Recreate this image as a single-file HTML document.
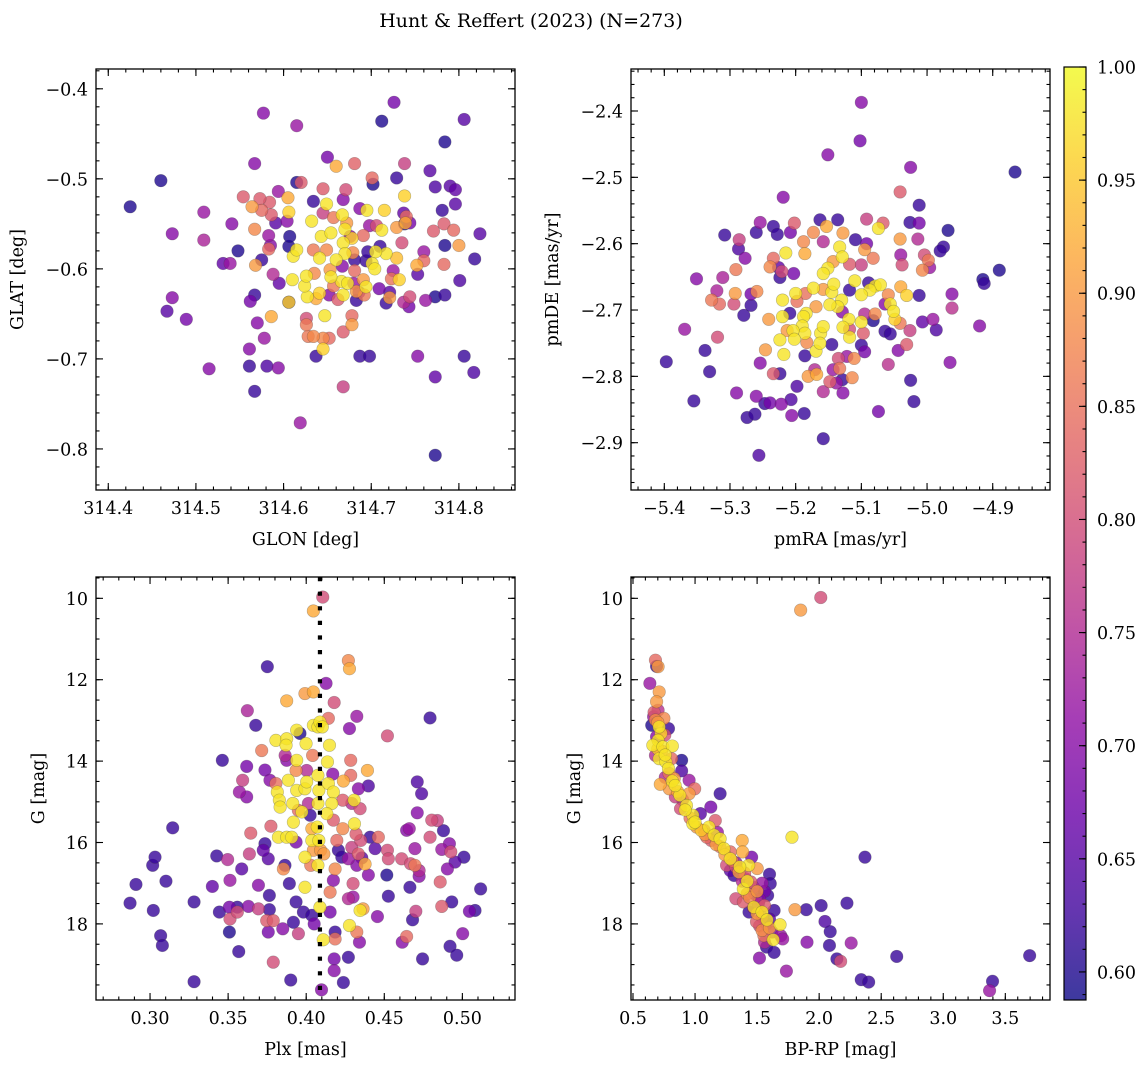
<!DOCTYPE html>
<html><head><meta charset="utf-8"><title>Hunt & Reffert (2023)</title>
<style>
html,body{margin:0;padding:0;background:#fff;}
svg{display:block;font-family:"DejaVu Serif","Liberation Serif",serif;}
</style></head>
<body>
<svg id="fig" width="1148" height="1067" viewBox="0 0 1148 1067" xmlns="http://www.w3.org/2000/svg">
<text x="531" y="27" text-anchor="middle" font-size="19">Hunt &amp; Reffert (2023) (N=273)</text>
</svg>
<script>
// ---------- data (x, y, membership probability) ----------
const glonGlatPoints = [
[314.425,-0.531,0.6],[314.460,-0.502,0.6],[314.577,-0.427,0.7],[314.615,-0.441,0.72],[314.726,-0.415,0.68],[314.712,-0.436,0.6],[314.806,-0.434,0.65],[314.784,-0.459,0.6],[314.567,-0.483,0.7],[314.650,-0.476,0.68],[314.660,-0.486,0.92],[314.681,-0.483,0.83],[314.738,-0.483,0.78],[314.767,-0.491,0.65],[314.729,-0.499,0.62],[314.701,-0.499,0.84],[314.702,-0.506,0.6],[314.615,-0.504,0.6],[314.620,-0.504,0.82],[314.773,-0.509,0.64],[314.790,-0.508,0.65],[314.796,-0.512,0.66],[314.796,-0.528,0.65],[314.781,-0.535,0.62],[314.824,-0.561,0.65],[314.818,-0.589,0.62],[314.801,-0.613,0.64],[314.784,-0.574,0.6],[314.800,-0.574,0.9],[314.783,-0.595,0.84],[314.771,-0.558,0.82],[314.783,-0.550,0.82],[314.794,-0.557,0.84],[314.784,-0.629,0.62],[314.773,-0.631,0.6],[314.762,-0.635,0.72],[314.752,-0.596,0.92],[314.760,-0.581,0.72],[314.760,-0.591,0.84],[314.753,-0.606,0.65],[314.743,-0.642,0.68],[314.744,-0.631,0.8],[314.737,-0.637,0.75],[314.738,-0.550,0.6],[314.738,-0.519,0.96],[314.737,-0.538,0.66],[314.740,-0.542,0.84],[314.744,-0.549,0.68],[314.739,-0.549,0.92],[314.729,-0.554,0.9],[314.735,-0.571,0.8],[314.729,-0.588,0.94],[314.732,-0.612,0.96],[314.723,-0.611,0.85],[314.725,-0.602,0.72],[314.721,-0.632,0.9],[314.717,-0.638,0.62],[314.721,-0.626,0.65],[314.709,-0.622,0.68],[314.715,-0.535,0.96],[314.712,-0.557,0.98],[314.706,-0.552,0.8],[314.698,-0.552,0.72],[314.695,-0.535,0.98],[314.687,-0.533,0.7],[314.691,-0.563,0.84],[314.717,-0.583,0.98],[314.705,-0.581,0.98],[314.701,-0.594,0.98],[314.704,-0.600,0.98],[314.694,-0.591,0.62],[314.691,-0.612,0.9],[314.694,-0.620,0.98],[314.692,-0.629,0.86],[314.686,-0.626,0.68],[314.683,-0.635,0.62],[314.680,-0.616,0.72],[314.681,-0.602,0.84],[314.679,-0.582,0.88],[314.678,-0.566,0.96],[314.672,-0.549,0.9],[314.671,-0.512,0.8],[314.668,-0.523,0.7],[314.667,-0.540,0.98],[314.670,-0.556,0.98],[314.668,-0.571,0.98],[314.670,-0.583,0.98],[314.667,-0.597,0.7],[314.666,-0.614,0.98],[314.668,-0.629,0.98],[314.678,-0.652,0.84],[314.678,-0.662,0.9],[314.668,-0.670,0.82],[314.668,-0.731,0.78],[314.687,-0.697,0.62],[314.698,-0.697,0.62],[314.753,-0.697,0.7],[314.773,-0.720,0.66],[314.806,-0.697,0.62],[314.817,-0.715,0.64],[314.773,-0.807,0.6],[314.619,-0.771,0.72],[314.645,-0.689,0.96],[314.652,-0.677,0.84],[314.645,-0.677,0.88],[314.634,-0.675,0.88],[314.628,-0.675,0.86],[314.626,-0.662,0.86],[314.626,-0.655,0.8],[314.637,-0.697,0.62],[314.647,-0.652,0.98],[314.641,-0.627,0.96],[314.637,-0.633,0.92],[314.627,-0.631,0.98],[314.624,-0.619,0.98],[314.626,-0.608,0.98],[314.635,-0.605,0.88],[314.610,-0.612,0.98],[314.606,-0.637,0.62],[314.606,-0.637,0.96],[314.611,-0.586,0.98],[314.615,-0.579,0.98],[314.606,-0.575,0.6],[314.607,-0.564,0.6],[314.606,-0.537,0.96],[314.605,-0.521,0.92],[314.604,-0.547,0.7],[314.594,-0.514,0.72],[314.584,-0.526,0.82],[314.573,-0.522,0.82],[314.575,-0.535,0.84],[314.554,-0.520,0.82],[314.564,-0.531,0.9],[314.567,-0.556,0.88],[314.586,-0.540,0.82],[314.591,-0.549,0.65],[314.583,-0.563,0.72],[314.585,-0.574,0.7],[314.583,-0.578,0.84],[314.575,-0.590,0.62],[314.568,-0.596,0.9],[314.588,-0.606,0.75],[314.595,-0.616,0.66],[314.548,-0.580,0.6],[314.531,-0.594,0.66],[314.539,-0.594,0.72],[314.541,-0.550,0.7],[314.509,-0.537,0.72],[314.509,-0.568,0.74],[314.473,-0.561,0.7],[314.473,-0.632,0.7],[314.467,-0.647,0.65],[314.489,-0.656,0.68],[314.515,-0.711,0.7],[314.561,-0.708,0.62],[314.581,-0.708,0.64],[314.594,-0.710,0.7],[314.567,-0.736,0.62],[314.561,-0.689,0.7],[314.570,-0.660,0.7],[314.578,-0.677,0.72],[314.567,-0.629,0.62],[314.562,-0.636,0.68],[314.586,-0.653,0.92],[314.634,-0.579,0.86],[314.643,-0.564,0.98],[314.649,-0.528,0.98],[314.645,-0.511,0.82],[314.632,-0.547,0.98],[314.634,-0.525,0.62],[314.645,-0.538,0.78],[314.654,-0.560,0.98],[314.657,-0.543,0.86],[314.649,-0.579,0.88],[314.641,-0.588,0.98],[314.653,-0.601,0.9],[314.654,-0.609,0.98],[314.660,-0.590,0.98],[314.657,-0.619,0.86],[314.652,-0.629,0.7],[314.662,-0.634,0.82],[314.681,-0.590,0.62],[314.683,-0.625,0.9],[314.673,-0.616,0.98],[314.676,-0.564,0.72],[314.696,-0.581,0.62],[314.710,-0.575,0.62]
];
const pmPoints = [
[-5.100,-2.387,0.7],[-5.102,-2.445,0.68],[-5.151,-2.466,0.7],[-5.025,-2.485,0.7],[-4.866,-2.492,0.6],[-5.219,-2.530,0.7],[-5.041,-2.522,0.82],[-5.012,-2.542,0.62],[-5.026,-2.568,0.62],[-5.012,-2.569,0.68],[-4.968,-2.580,0.6],[-5.014,-2.593,0.75],[-5.041,-2.593,0.9],[-4.975,-2.605,0.62],[-4.980,-2.611,0.62],[-4.890,-2.640,0.6],[-4.915,-2.654,0.6],[-4.913,-2.660,0.62],[-4.962,-2.676,0.7],[-4.962,-2.697,0.76],[-4.920,-2.724,0.7],[-4.965,-2.779,0.7],[-4.991,-2.714,0.72],[-4.986,-2.730,0.64],[-5.007,-2.718,0.66],[-5.012,-2.678,0.62],[-4.998,-2.625,0.86],[-5.007,-2.640,0.88],[-4.996,-2.636,0.72],[-5.004,-2.617,0.8],[-5.040,-2.617,0.72],[-5.038,-2.632,0.8],[-5.026,-2.731,0.78],[-5.031,-2.752,0.82],[-5.044,-2.761,0.7],[-5.059,-2.782,0.76],[-5.025,-2.806,0.62],[-5.020,-2.838,0.62],[-5.074,-2.853,0.68],[-5.158,-2.894,0.62],[-5.256,-2.919,0.64],[-5.397,-2.778,0.62],[-5.355,-2.837,0.62],[-5.369,-2.729,0.72],[-5.351,-2.653,0.7],[-5.338,-2.761,0.62],[-5.331,-2.793,0.62],[-5.319,-2.741,0.8],[-5.328,-2.685,0.86],[-5.320,-2.671,0.74],[-5.316,-2.691,0.84],[-5.311,-2.651,0.74],[-5.308,-2.587,0.62],[-5.292,-2.675,0.9],[-5.294,-2.691,0.8],[-5.291,-2.639,0.86],[-5.286,-2.594,0.78],[-5.287,-2.608,0.64],[-5.277,-2.622,0.7],[-5.279,-2.708,0.62],[-5.268,-2.693,0.62],[-5.268,-2.676,0.68],[-5.259,-2.672,0.88],[-5.260,-2.583,0.62],[-5.254,-2.568,0.72],[-5.290,-2.825,0.7],[-5.260,-2.830,0.7],[-5.247,-2.841,0.62],[-5.239,-2.840,0.68],[-5.274,-2.862,0.62],[-5.262,-2.857,0.62],[-5.222,-2.842,0.7],[-5.207,-2.835,0.64],[-5.206,-2.859,0.7],[-5.187,-2.856,0.62],[-5.198,-2.815,0.64],[-5.224,-2.796,0.62],[-5.234,-2.796,0.82],[-5.254,-2.780,0.7],[-5.246,-2.760,0.9],[-5.241,-2.714,0.9],[-5.224,-2.651,0.62],[-5.234,-2.622,0.84],[-5.239,-2.635,0.88],[-5.226,-2.636,0.66],[-5.234,-2.574,0.62],[-5.228,-2.586,0.62],[-5.202,-2.569,0.82],[-5.208,-2.583,0.68],[-5.215,-2.614,0.98],[-5.221,-2.642,0.8],[-5.203,-2.645,0.68],[-5.186,-2.615,0.92],[-5.188,-2.597,0.88],[-5.173,-2.583,0.88],[-5.158,-2.597,0.75],[-5.163,-2.564,0.62],[-5.153,-2.574,0.92],[-5.136,-2.564,0.62],[-5.128,-2.584,0.9],[-5.133,-2.605,0.98],[-5.129,-2.620,0.98],[-5.143,-2.627,0.9],[-5.151,-2.637,0.98],[-5.158,-2.645,0.98],[-5.118,-2.631,0.82],[-5.109,-2.594,0.62],[-5.092,-2.563,0.78],[-5.074,-2.577,0.98],[-5.067,-2.569,0.82],[-5.095,-2.609,0.9],[-5.092,-2.600,0.68],[-5.100,-2.632,0.78],[-5.082,-2.622,0.86],[-5.089,-2.659,0.62],[-5.079,-2.664,0.98],[-5.071,-2.662,0.98],[-5.087,-2.670,0.98],[-5.100,-2.677,0.98],[-5.110,-2.656,0.98],[-5.118,-2.670,0.62],[-5.059,-2.677,0.88],[-5.056,-2.691,0.98],[-5.051,-2.702,0.98],[-5.049,-2.714,0.96],[-5.041,-2.720,0.86],[-5.040,-2.665,0.92],[-5.031,-2.678,0.96],[-5.064,-2.691,0.7],[-5.064,-2.732,0.62],[-5.056,-2.736,0.62],[-5.079,-2.706,0.88],[-5.082,-2.716,0.6],[-5.095,-2.706,0.75],[-5.100,-2.718,0.98],[-5.097,-2.735,0.82],[-5.095,-2.763,0.68],[-5.100,-2.753,0.62],[-5.111,-2.773,0.88],[-5.118,-2.729,0.8],[-5.119,-2.714,0.98],[-5.118,-2.741,0.98],[-5.128,-2.726,0.98],[-5.129,-2.703,0.7],[-5.130,-2.685,0.98],[-5.136,-2.695,0.98],[-5.148,-2.692,0.98],[-5.145,-2.673,0.98],[-5.142,-2.661,0.98],[-5.158,-2.669,0.9],[-5.169,-2.695,0.9],[-5.173,-2.667,0.98],[-5.185,-2.675,0.85],[-5.200,-2.675,0.98],[-5.198,-2.687,0.85],[-5.184,-2.705,0.98],[-5.188,-2.710,0.98],[-5.190,-2.724,0.98],[-5.186,-2.735,0.98],[-5.204,-2.731,0.98],[-5.202,-2.744,0.98],[-5.213,-2.731,0.9],[-5.224,-2.745,0.98],[-5.218,-2.767,0.98],[-5.220,-2.710,0.98],[-5.220,-2.685,0.98],[-5.209,-2.705,0.62],[-5.183,-2.749,0.88],[-5.186,-2.769,0.62],[-5.181,-2.800,0.9],[-5.168,-2.797,0.92],[-5.158,-2.823,0.75],[-5.171,-2.790,0.75],[-5.169,-2.762,0.98],[-5.162,-2.735,0.98],[-5.158,-2.725,0.98],[-5.163,-2.750,0.98],[-5.145,-2.752,0.62],[-5.143,-2.790,0.72],[-5.148,-2.808,0.82],[-5.138,-2.810,0.72],[-5.129,-2.805,0.62],[-5.128,-2.825,0.7],[-5.133,-2.788,0.86],[-5.135,-2.773,0.8],[-5.122,-2.770,0.72],[-5.114,-2.802,0.88]
];
const plxGPoints = [
[0.2872,17.49,0.62],[0.2910,17.03,0.62],[0.3017,16.56,0.62],[0.3032,16.36,0.62],[0.3021,17.67,0.62],[0.3068,18.29,0.62],[0.3079,18.53,0.62],[0.3102,16.95,0.62],[0.3145,15.64,0.62],[0.3282,17.46,0.62],[0.3282,19.42,0.62],[0.3399,17.08,0.66],[0.3427,16.33,0.62],[0.3444,17.71,0.62],[0.3463,13.98,0.62],[0.3497,16.42,0.75],[0.3512,16.93,0.72],[0.3508,17.59,0.68],[0.3512,17.88,0.8],[0.3508,18.20,0.6],[0.3559,17.59,0.62],[0.3559,17.71,0.8],[0.3568,18.68,0.62],[0.3572,14.76,0.72],[0.3593,14.47,0.78],[0.3619,14.88,0.7],[0.3623,12.76,0.74],[0.3619,14.13,0.68],[0.3645,15.77,0.82],[0.3636,16.28,0.78],[0.3587,16.65,0.65],[0.3630,17.57,0.7],[0.3677,13.12,0.62],[0.3694,17.63,0.78],[0.3694,17.05,0.7],[0.3715,13.74,0.86],[0.3736,14.22,0.68],[0.3736,16.03,0.62],[0.3725,16.19,0.66],[0.3757,16.40,0.65],[0.3751,11.68,0.62],[0.3768,14.47,0.7],[0.3764,17.30,0.62],[0.3764,17.65,0.62],[0.3757,18.20,0.68],[0.3747,17.92,0.82],[0.3789,17.92,0.82],[0.3789,18.94,0.8],[0.3774,15.60,0.82],[0.3806,13.49,0.98],[0.3806,14.55,0.85],[0.3815,14.76,0.98],[0.3828,14.96,0.98],[0.3833,15.13,0.98],[0.3822,15.87,0.98],[0.3875,15.87,0.98],[0.3854,16.65,0.88],[0.3864,16.56,0.62],[0.3875,13.45,0.98],[0.3871,13.61,0.98],[0.3865,13.86,0.75],[0.3875,12.52,0.92],[0.3886,14.47,0.98],[0.3892,17.01,0.62],[0.3901,19.38,0.62],[0.3850,18.12,0.7],[0.3875,13.98,0.7],[0.3939,13.24,0.98],[0.3939,13.98,0.98],[0.3935,14.23,0.88],[0.3939,14.72,0.98],[0.3914,15.04,0.98],[0.3950,15.21,0.84],[0.3972,15.25,0.98],[0.3918,15.50,0.98],[0.3907,15.87,0.98],[0.3935,15.99,0.68],[0.3935,17.46,0.62],[0.3950,18.24,0.78],[0.3918,17.96,0.62],[0.3960,13.32,0.6],[0.3992,12.34,0.9],[0.4046,12.30,0.92],[0.4046,10.31,0.92],[0.4106,9.97,0.8],[0.3999,13.57,0.98],[0.4003,14.23,0.75],[0.3992,14.68,0.98],[0.4003,14.51,0.98],[0.4014,15.04,0.75],[0.4025,15.33,0.62],[0.4036,15.66,0.92],[0.4036,15.95,0.98],[0.4046,16.19,0.9],[0.4029,16.56,0.86],[0.3992,16.36,0.98],[0.3992,17.10,0.98],[0.3982,17.71,0.62],[0.4036,17.79,0.62],[0.4051,18.00,0.68],[0.4046,13.12,0.98],[0.4041,13.86,0.86],[0.4075,13.16,0.98],[0.4088,13.04,0.98],[0.4103,13.16,0.98],[0.4075,14.35,0.98],[0.4081,14.72,0.98],[0.4075,15.04,0.98],[0.4071,15.62,0.98],[0.4081,15.95,0.98],[0.4092,16.19,0.9],[0.4075,16.56,0.98],[0.4113,16.28,0.9],[0.4088,17.59,0.98],[0.4109,18.39,0.98],[0.4098,19.62,0.7],[0.4127,12.09,0.7],[0.4142,12.95,0.84],[0.4149,13.61,0.98],[0.4136,14.02,0.98],[0.4170,14.32,0.7],[0.4142,14.55,0.98],[0.4174,14.76,0.98],[0.4164,15.04,0.98],[0.4132,15.29,0.98],[0.4179,12.56,0.8],[0.4174,15.45,0.82],[0.4234,15.66,0.88],[0.4196,15.95,0.84],[0.4206,16.19,0.62],[0.4228,16.36,0.62],[0.4185,16.65,0.88],[0.4174,16.93,0.7],[0.4153,17.22,0.86],[0.4153,17.71,0.68],[0.4185,18.20,0.62],[0.4185,18.37,0.85],[0.4179,18.86,0.68],[0.4179,19.15,0.7],[0.4238,19.44,0.62],[0.4270,18.82,0.62],[0.4270,11.53,0.88],[0.4277,11.73,0.92],[0.4277,13.20,0.7],[0.4324,12.90,0.72],[0.4285,13.98,0.84],[0.4285,14.35,0.84],[0.4238,14.49,0.92],[0.4234,14.96,0.82],[0.4292,15.04,0.75],[0.4307,14.96,0.98],[0.4345,15.17,0.8],[0.4334,14.68,0.7],[0.4398,14.61,0.64],[0.4392,14.23,0.92],[0.4309,15.54,0.98],[0.4319,15.79,0.82],[0.4349,15.95,0.8],[0.4292,16.12,0.78],[0.4334,16.28,0.82],[0.4270,16.40,0.72],[0.4324,16.56,0.7],[0.4377,16.53,0.92],[0.4356,16.38,0.65],[0.4409,15.87,0.62],[0.4462,15.87,0.84],[0.4441,16.15,0.65],[0.4398,16.80,0.7],[0.4300,17.01,0.8],[0.4270,17.38,0.75],[0.4300,17.34,0.72],[0.4364,17.63,0.9],[0.4345,17.67,0.98],[0.4277,18.04,0.98],[0.4324,18.20,0.86],[0.4341,18.45,0.7],[0.4456,17.82,0.7],[0.4520,13.38,0.8],[0.4520,16.19,0.8],[0.4526,16.40,0.8],[0.4516,16.80,0.6],[0.4526,17.32,0.62],[0.4611,16.40,0.8],[0.4643,15.70,0.7],[0.4660,15.66,0.72],[0.4615,18.45,0.7],[0.4643,18.31,0.84],[0.4664,17.10,0.62],[0.4681,17.90,0.62],[0.4702,17.69,0.78],[0.4696,16.15,0.72],[0.4668,16.52,0.8],[0.4696,16.56,0.86],[0.4723,16.69,0.75],[0.4723,16.83,0.7],[0.4711,14.51,0.64],[0.4739,14.80,0.64],[0.4711,15.27,0.7],[0.4745,18.86,0.62],[0.4793,12.94,0.62],[0.4793,15.87,0.8],[0.4804,15.45,0.8],[0.4840,15.46,0.78],[0.4879,15.71,0.62],[0.4868,16.17,0.72],[0.4917,16.03,0.7],[0.4926,16.23,0.8],[0.4904,16.65,0.7],[0.4953,16.48,0.65],[0.4858,16.97,0.82],[0.4868,17.57,0.82],[0.4932,17.46,0.62],[0.4921,18.55,0.62],[0.4964,18.77,0.62],[0.5002,18.24,0.7],[0.5010,16.36,0.62],[0.5045,17.69,0.68],[0.5081,17.67,0.62],[0.5117,17.14,0.62]
];
const cmdPoints = [
[2.013,9.98,0.8],[1.851,10.29,0.9],[0.681,11.52,0.84],[0.702,11.68,0.9],[0.690,11.67,0.62],[0.636,12.09,0.72],[0.711,12.30,0.9],[0.690,12.54,0.9],[0.702,12.75,0.76],[0.666,12.91,0.72],[0.749,12.95,0.88],[0.681,12.99,0.88],[0.651,13.12,0.6],[0.786,13.20,0.62],[0.711,13.16,0.98],[0.726,13.32,0.96],[0.702,13.49,0.98],[0.756,13.36,0.8],[0.660,13.61,0.98],[0.741,13.65,0.98],[0.817,13.63,0.98],[0.711,13.94,0.98],[0.681,13.86,0.75],[0.765,14.02,0.98],[0.811,13.94,0.84],[0.892,13.98,0.6],[0.786,14.18,0.98],[0.892,14.24,0.64],[0.832,14.43,0.9],[0.817,14.49,0.98],[0.720,14.57,0.92],[0.792,14.68,0.9],[0.952,14.47,0.72],[0.997,14.68,0.84],[0.877,14.84,0.98],[0.841,14.88,0.78],[0.952,14.80,0.9],[0.931,15.09,0.98],[0.883,15.17,0.8],[1.202,14.80,0.62],[1.127,15.13,0.68],[0.982,15.33,0.98],[1.043,15.29,0.65],[1.163,15.46,0.82],[0.982,15.54,0.98],[1.013,15.62,0.9],[1.112,15.62,0.98],[1.073,15.70,0.82],[1.154,15.82,0.98],[1.094,15.87,0.84],[1.202,15.91,0.98],[1.380,15.95,0.92],[1.781,15.87,0.98],[1.233,16.15,0.98],[1.284,16.23,0.84],[1.383,16.23,0.92],[1.456,16.36,0.68],[1.284,16.40,0.98],[1.254,16.56,0.8],[1.329,16.60,0.8],[1.432,16.56,0.98],[1.501,16.64,0.9],[1.284,16.69,0.65],[1.353,16.73,0.9],[1.600,16.78,0.62],[2.369,16.36,0.62],[1.314,16.81,0.62],[1.405,16.89,0.7],[1.450,16.97,0.82],[1.540,17.00,0.72],[1.606,17.01,0.62],[1.389,17.14,0.98],[1.420,17.26,0.88],[1.480,17.26,0.68],[1.585,17.30,0.62],[1.329,17.38,0.8],[1.389,17.46,0.82],[1.510,17.50,0.75],[2.016,17.55,0.62],[2.224,17.49,0.62],[1.474,17.59,0.98],[1.805,17.65,0.9],[1.896,17.65,0.62],[1.637,17.67,0.62],[1.540,17.71,0.98],[1.435,17.71,0.62],[1.540,17.83,0.78],[1.600,17.88,0.65],[2.047,17.94,0.64],[1.495,17.95,0.82],[1.685,18.02,0.98],[1.576,18.00,0.7],[2.089,18.19,0.62],[1.540,18.16,0.88],[1.555,18.29,0.85],[1.691,18.29,0.72],[1.630,18.39,0.98],[1.706,18.37,0.72],[1.576,18.57,0.62],[1.637,18.70,0.62],[1.902,18.45,0.7],[2.083,18.53,0.62],[2.258,18.47,0.72],[1.519,18.84,0.7],[2.143,18.86,0.62],[2.173,18.92,0.8],[2.625,18.80,0.62],[3.696,18.78,0.62],[1.736,19.16,0.72],[2.339,19.37,0.62],[2.399,19.43,0.62],[3.397,19.41,0.62],[3.373,19.64,0.72],
[0.670,12.80,0.82],[0.700,13.05,0.9],[0.690,13.40,0.7],[0.730,13.75,0.88],[0.700,13.70,0.95],[0.760,13.85,0.98],[0.790,14.30,0.85],[0.760,14.40,0.75],[0.840,14.60,0.98],[0.860,14.75,0.92],[0.900,14.95,0.75],[0.920,15.20,0.98],[0.960,15.40,0.85],[1.000,15.50,0.98],[1.050,15.70,0.95],[1.080,15.80,0.9],[1.130,15.95,0.82],[1.170,16.05,0.9],[1.200,16.10,0.85],[1.240,16.30,0.9],[1.300,16.45,0.85],[1.330,16.50,0.7],[1.360,16.60,0.98],[1.400,16.75,0.82],[1.420,16.95,0.98],[1.470,17.10,0.75],[1.500,17.20,0.9],[1.440,17.35,0.88],[1.520,17.40,0.7],[1.560,17.55,0.82],[1.500,17.75,0.9],[1.580,17.90,0.98],[1.520,18.05,0.8],[1.600,18.10,0.9],[1.560,18.45,0.75],[1.620,18.20,0.7],[1.470,17.60,0.72],[1.560,17.20,0.68],[1.380,16.95,0.75],[1.180,15.75,0.72]
];
const plxLine = [0.4088];
// ---------- ticks ----------
const glonTicks = [314.4,314.5,314.6,314.7,314.8];
const glonTickLabels = ["314.4","314.5","314.6","314.7","314.8"];
const glatTicks = [-0.4,-0.5,-0.6,-0.7,-0.8];
const glatTickLabels = ["\u22120.4","\u22120.5","\u22120.6","\u22120.7","\u22120.8"];
const pmraTicks = [-5.4,-5.3,-5.2,-5.1,-5.0,-4.9];
const pmraTickLabels = ["\u22125.4","\u22125.3","\u22125.2","\u22125.1","\u22125.0","\u22124.9"];
const pmdeTicks = [-2.4,-2.5,-2.6,-2.7,-2.8,-2.9];
const pmdeTickLabels = ["\u22122.4","\u22122.5","\u22122.6","\u22122.7","\u22122.8","\u22122.9"];
const plxTicks = [0.30,0.35,0.40,0.45,0.50];
const plxTickLabels = ["0.30","0.35","0.40","0.45","0.50"];
const gTicks = [10,12,14,16,18];
const gTickLabels = ["10","12","14","16","18"];
const bprpTicks = [0.5,1.0,1.5,2.0,2.5,3.0,3.5];
const bprpTickLabels = ["0.5","1.0","1.5","2.0","2.5","3.0","3.5"];
const cbarTicks = [0.60,0.65,0.70,0.75,0.80,0.85,0.90,0.95,1.00];
const cbarTickLabels = ["0.60","0.65","0.70","0.75","0.80","0.85","0.90","0.95","1.00"];
const VMIN = 0.5876, VMAX = 1.0;

const NS = "http://www.w3.org/2000/svg";
const svg = document.getElementById('fig');
const FS = 17.5;
function mk(tag, attrs, parent){ const e=document.createElementNS(NS,tag); for(const k in attrs) e.setAttribute(k, attrs[k]); (parent||svg).appendChild(e); return e; }

const plasma = ["#0d0887","#41049d","#6a00a8","#8f0da4","#b12a90","#cc4778","#e16462","#f2844b","#fca636","#fcce25","#f0f921"];
function hex2rgb(h){ return [parseInt(h.substr(1,2),16),parseInt(h.substr(3,2),16),parseInt(h.substr(5,2),16)]; }
function cmap(t){ t=Math.max(0,Math.min(1,t)); const f=t*10, i=Math.min(9,Math.floor(f)), r=f-i; const a=hex2rgb(plasma[i]), b=hex2rgb(plasma[i+1]); return 'rgb('+a.map((v,k)=>Math.round(v+(b[k]-v)*r)).join(',')+')'; }
function norm(p){ return (p-VMIN)/(VMAX-VMIN); }

function minorList(a,b,step){ const out=[]; const s=Math.ceil(a/step-1e-9); for(let k=s; k*step<=b+1e-9; k++) out.push(+(k*step).toFixed(6)); return out; }

function panel(cfg){
  const g = mk('g', {});
  
  
  const W=cfg.x1-cfg.x0, H=cfg.y1-cfg.y0;
  const sx = v => cfg.x0 + (v-cfg.xmin)/(cfg.xmax-cfg.xmin)*W;
  const sy = cfg.invert ? (v => cfg.y0 + (v-cfg.ymin)/(cfg.ymax-cfg.ymin)*H)
                        : (v => cfg.y1 - (v-cfg.ymin)/(cfg.ymax-cfg.ymin)*H);
  const clipId = 'clip-'+cfg.name;
  const cp = mk('clipPath', {id:clipId}, g); mk('rect',{x:cfg.x0,y:cfg.y0,width:W,height:H},cp);
  const pts = mk('g', {'clip-path':'url(#'+clipId+')'}, g);
  
  
  const sorted = cfg.data.slice().sort((a,b)=>a[2]-b[2]);
  sorted.forEach(d=>{
    const c = mk('circle', {cx:sx(d[0]).toFixed(2), cy:sy(d[1]).toFixed(2), r:6.3, fill:cmap(norm(d[2])), 'fill-opacity':0.8, stroke:'rgba(60,60,60,0.35)', 'stroke-width':0.6}, pts);
    
    
  });
  if(cfg.vline){
    cfg.vline.forEach(v=>{
      const l = mk('line', {x1:sx(v), x2:sx(v), y1:cfg.y0, y2:cfg.y1, stroke:'#000', 'stroke-width':4.2, 'stroke-dasharray':'4.2 10.4'}, pts);
      
      
    });
  }
  const tk = mk('g', {stroke:'#000','stroke-width':1.1}, g);
  minorList(cfg.xmin,cfg.xmax,cfg.xminor).forEach(v=>{ const x=sx(v); mk('line',{x1:x,x2:x,y1:cfg.y1,y2:cfg.y1-3.5},tk); mk('line',{x1:x,x2:x,y1:cfg.y0,y2:cfg.y0+3.5},tk); });
  minorList(cfg.ymin,cfg.ymax,cfg.yminor).forEach(v=>{ const y=sy(v); mk('line',{x1:cfg.x0,x2:cfg.x0+3.5,y1:y,y2:y},tk); mk('line',{x1:cfg.x1,x2:cfg.x1-3.5,y1:y,y2:y},tk); });
  cfg.xt.forEach((v,i)=>{ const x=sx(v); mk('line',{x1:x,x2:x,y1:cfg.y1,y2:cfg.y1-7},tk); mk('line',{x1:x,x2:x,y1:cfg.y0,y2:cfg.y0+7},tk);
    const t=mk('text',{x:x,y:cfg.y1+24,'text-anchor':'middle','font-size':FS},g); t.textContent=cfg.xtl[i];
      });
  cfg.yt.forEach((v,i)=>{ const y=sy(v); mk('line',{x1:cfg.x0,x2:cfg.x0+7,y1:y,y2:y},tk); mk('line',{x1:cfg.x1,x2:cfg.x1-7,y1:y,y2:y},tk);
    const t=mk('text',{x:cfg.x0-8,y:y+6.5,'text-anchor':'end','font-size':FS},g); t.textContent=cfg.ytl[i];
      });
  const fr = mk('rect',{x:cfg.x0,y:cfg.y0,width:W,height:H,fill:'none',stroke:'#000','stroke-width':1.3},g);
   
  const xl = mk('text',{x:(cfg.x0+cfg.x1)/2,y:cfg.y1+55,'text-anchor':'middle','font-size':FS},g); xl.textContent=cfg.xlabel;
   
  const yl = mk('text',{x:cfg.ylx,y:(cfg.y0+cfg.y1)/2,'text-anchor':'middle','font-size':FS,transform:'rotate(-90 '+cfg.ylx+' '+((cfg.y0+cfg.y1)/2)+')'},g); yl.textContent=cfg.ylabel;
   
}

panel({name:'glon-glat-panel', x0:96,x1:515,y0:69,y1:490, xmin:314.386,xmax:314.864, ymin:-0.8456,ymax:-0.378, xminor:0.02, yminor:0.02,
  xt:glonTicks, xtl:glonTickLabels, yt:glatTicks, ytl:glatTickLabels, data:glonGlatPoints, xlabel:'GLON [deg]', ylabel:'GLAT [deg]', ylx:23});
panel({name:'proper-motion-panel', x0:631,x1:1050,y0:69,y1:490, xmin:-5.4507,xmax:-4.8128, ymin:-2.9713,ymax:-2.3367, xminor:0.02, yminor:0.02,
  xt:pmraTicks, xtl:pmraTickLabels, yt:pmdeTicks, ytl:pmdeTickLabels, data:pmPoints, xlabel:'pmRA [mas/yr]', ylabel:'pmDE [mas/yr]', ylx:558});
panel({name:'parallax-magnitude-panel', x0:96,x1:515,y0:577,y1:1000, xmin:0.2654,xmax:0.5337, ymin:9.476,ymax:19.87, invert:true, xminor:0.01, yminor:0.5,
  xt:plxTicks, xtl:plxTickLabels, yt:gTicks, ytl:gTickLabels, data:plxGPoints, vline:plxLine, xlabel:'Plx [mas]', ylabel:'G [mag]', ylx:44});
panel({name:'colour-magnitude-panel', x0:631,x1:1050,y0:577,y1:1000, xmin:0.484,xmax:3.86, ymin:9.476,ymax:19.87, invert:true, xminor:0.1, yminor:0.5,
  xt:bprpTicks, xtl:bprpTickLabels, yt:gTicks, ytl:gTickLabels, data:cmdPoints, xlabel:'BP-RP [mag]', ylabel:'G [mag]', ylx:580});

// colorbar
(function(){
  const cx0=1064, cx1=1086, cy0=67, cy1=1000;
  const g = mk('g',{});
   
  const defs = mk('defs',{},g);
  const lg = mk('linearGradient',{id:'cbgrad',x1:0,y1:1,x2:0,y2:0},defs);
  for(let i=0;i<=20;i++){ mk('stop',{offset:(i/20),'stop-color':cmap(i/20),'stop-opacity':0.8},lg); }
  mk('rect',{x:cx0,y:cy0,width:cx1-cx0,height:cy1-cy0,fill:'url(#cbgrad)'},g);
  const sy = v => cy1 - (v-VMIN)/(VMAX-VMIN)*(cy1-cy0);
  const tk = mk('g',{stroke:'#000','stroke-width':1.1},g);
  minorList(VMIN,VMAX,0.01).forEach(v=>{ const y=sy(v); mk('line',{x1:cx1,x2:cx1-3.5,y1:y,y2:y},tk); });
  cbarTicks.forEach((v,i)=>{ const y=sy(v); mk('line',{x1:cx1,x2:cx1-7,y1:y,y2:y},tk);
    const t=mk('text',{x:cx1+11,y:y+6.5,'font-size':FS},g); t.textContent=cbarTickLabels[i];
      });
  mk('rect',{x:cx0,y:cy0,width:cx1-cx0,height:cy1-cy0,fill:'none',stroke:'#000','stroke-width':1.2},g);
})();
</script>
</body></html>
